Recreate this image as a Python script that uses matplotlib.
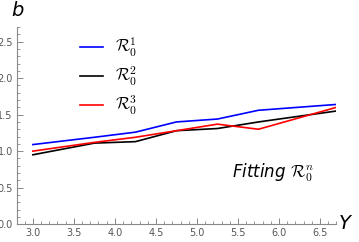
import numpy as np
import matplotlib.pyplot as plt
from matplotlib.ticker import MultipleLocator

plt.rcParams['mathtext.fontset'] = 'cm'

x = [3.0, 3.75, 4.25, 4.75, 5.25, 5.75, 6.7]
r1 = [1.09, 1.19, 1.26, 1.40, 1.44, 1.56, 1.64]
r2 = [0.95, 1.11, 1.13, 1.28, 1.31, 1.40, 1.55]
r3 = [1.00, 1.12, 1.19, 1.28, 1.37, 1.30, 1.60]
labels = [r'$\mathcal{R}_0^1$', r'$\mathcal{R}_0^2$', r'$\mathcal{R}_0^3$']
colors = ['#0000ff', '#000000', '#ff0000']

fig = plt.figure(figsize=(3.59, 2.42), dpi=100)
ax = fig.add_axes([0.047, 0.074, 0.89, 0.814])
for y, c, l in zip([r1, r2, r3], colors, labels):
    ax.plot(x, y, color=c, lw=1.2, label=l)

ax.set_xlim(2.805, 6.7)
ax.set_ylim(0, 2.7)
ax.xaxis.set_major_locator(MultipleLocator(0.5))
ax.xaxis.set_minor_locator(MultipleLocator(0.1))
ax.yaxis.set_major_locator(MultipleLocator(0.5))
ax.yaxis.set_minor_locator(MultipleLocator(0.1))
for s in ['top', 'right']:
    ax.spines[s].set_visible(False)
for s in ['left', 'bottom']:
    ax.spines[s].set_color('#888888')
    ax.spines[s].set_linewidth(0.8)
ax.tick_params(which='major', direction='in', length=4, width=0.7, color='#888888',
               labelsize=7, labelcolor='#555555', pad=3)
ax.tick_params(which='minor', direction='in', length=2, width=0.6, color='#888888')

fig.text(0.05, 0.955, 'b', fontsize=14, style='italic', ha='center', va='center')
fig.text(0.96, 0.075, 'Y', fontsize=14, style='italic', ha='center', va='center')

ax.legend(loc='upper left', bbox_to_anchor=(0.15, 1.03), frameon=False, fontsize=12,
          handlelength=1.4, labelspacing=0.35, handletextpad=0.7)
ax.text(0.8, 0.26, r'Fitting $\mathcal{R}_0^n$', transform=ax.transAxes,
        fontsize=12, style='italic', ha='center', va='center')

fig.savefig('out.png', dpi=100)
